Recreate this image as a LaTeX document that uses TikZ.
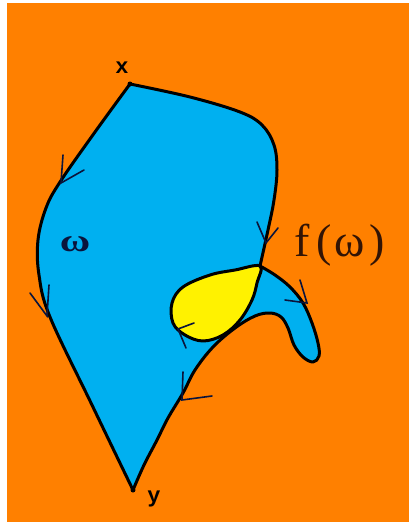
\documentclass[tikz,border=0pt]{standalone}
\usepackage{fontspec}
\setmainfont{Liberation Serif}
\newfontfamily\labelfont{Liberation Mono}
\usepackage{tikz}
\usetikzlibrary{calc}

\definecolor{bgorange}{RGB}{255,128,0}
\definecolor{regionblue}{RGB}{0,176,240}
\definecolor{loopyellow}{RGB}{255,242,0}
\definecolor{inkbrown}{RGB}{50,20,5}
\definecolor{ticknavy}{RGB}{10,20,60}

\tikzset{
  outline/.style={line width=3pt, line join=round, black},
  tickmark/.style={line width=1.6pt, ticknavy, line cap=round},
  pointlabel/.style={font=\labelfont\bfseries\fontsize{22}{22}\selectfont, inner sep=0pt}
}

\begin{document}
\begin{tikzpicture}[x=1pt, y=-1pt]
  \useasboundingbox (0,0) rectangle (409,522);
  % background
  \fill[white] (0,0) rectangle (409,522);
  \fill[bgorange] (7,3) rectangle (409,522);
  % blue region: top edge, tail, left edge
  \filldraw[outline, fill=regionblue]
    plot[smooth, tension=0.6] coordinates {(130,84) (190,97) (240,112) (262,125) (274,145) (277,170) (274,200) (268,230) (260,266)}
    -- plot[smooth, tension=0.6] coordinates {(260,266) (275,275) (290,287) (303,303) (312,323) (318,343) (319,356) (313,362) (303,357) (294,345) (288,328) (281,317) (270,313) (255,316) (235,328) (213,347) (195,370) (183,393) (168,418) (157,440) (144,465) (133,490)}
    -- plot[smooth, tension=0.6] coordinates {(133,490) (92,405) (50,317) (39,275) (38,240) (46,208) (60,182) (95,132) (130,84)}
    -- cycle;
  % yellow loop
  \filldraw[outline, fill=loopyellow]
    plot[smooth cycle, tension=0.6] coordinates {(260,266) (235,270) (210,275) (183,287) (172,303) (173,323) (185,335) (203,341) (223,335) (240,320) (252,300) (257,283)};
  % end points
  \fill (130,84) circle (2.5pt);
  \fill (133,490) circle (2.5pt);
  % direction ticks
  \foreach \p/\t/\q in {{(63,155)}/{(61,183)}/{(84,170)}, {(49,285)}/{(47,316)}/{(30,293)},
      {(257,222)}/{(266,243)}/{(278,228)}, {(300,280)}/{(307,303)}/{(285,300)},
      {(194,323)}/{(178,329)}/{(186,348)}, {(183,372)}/{(182,400)}/{(212,396)}} {
    \draw[tickmark] \p -- \t -- \q;
  }
  % labels
  \node[pointlabel] (xlabel) at (122,68) {x};
  \node[pointlabel] (ylabel) at (154,499) {y};
  \node[inner sep=0pt, xscale=1.3, font=\bfseries\fontsize{32}{32}\selectfont, ticknavy] (omega) at (75,244) {ω};
  \node[inner sep=0pt, inkbrown, font=\fontsize{46}{46}\selectfont, anchor=west] (fomega) at (294,245) {f\kern7pt(\kern3ptω\kern4pt)};
\end{tikzpicture}
\end{document}
